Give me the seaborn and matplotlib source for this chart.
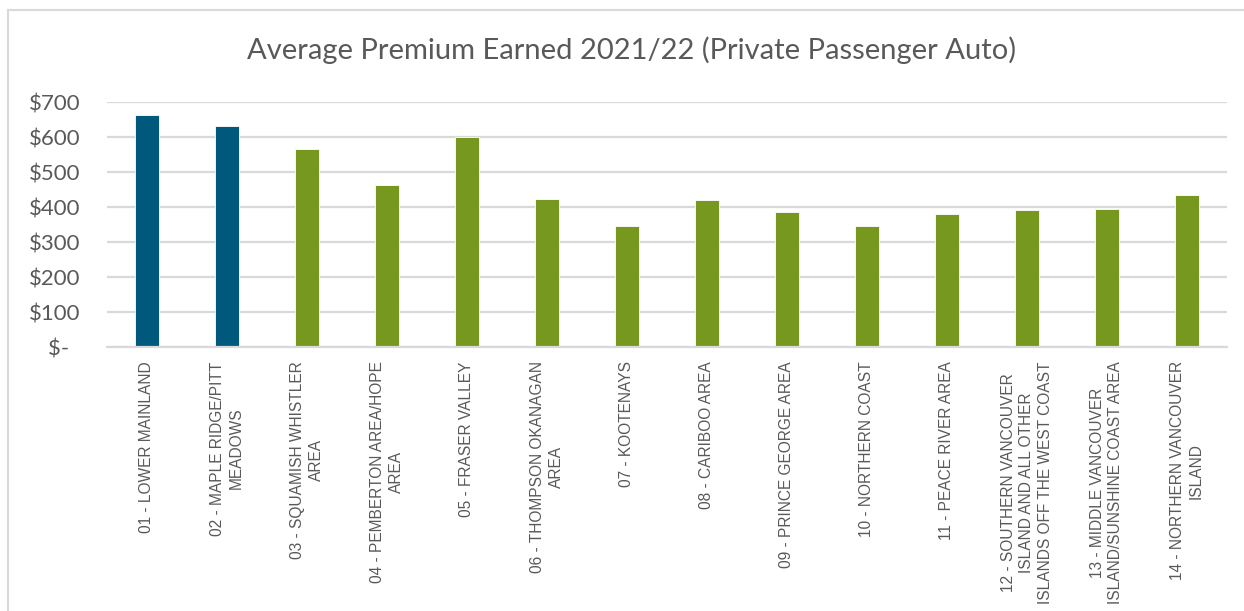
import matplotlib
matplotlib.use("Agg")
import matplotlib.pyplot as plt
from matplotlib.lines import Line2D
import seaborn as sns
import pandas as pd

regions = [
    "01 - LOWER MAINLAND",
    "02 - MAPLE RIDGE/PITT\nMEADOWS",
    "03 - SQUAMISH WHISTLER\nAREA",
    "04 - PEMBERTON AREA/HOPE\nAREA",
    "05 - FRASER VALLEY",
    "06 - THOMPSON OKANAGAN\nAREA",
    "07 - KOOTENAYS",
    "08 - CARIBOO AREA",
    "09 - PRINCE GEORGE AREA",
    "10 - NORTHERN COAST",
    "11 - PEACE RIVER AREA",
    "12 - SOUTHERN VANCOUVER\nISLAND AND ALL OTHER\nISLANDS OFF THE WEST COAST",
    "13 - MIDDLE VANCOUVER\nISLAND/SUNSHINE COAST AREA",
    "14 - NORTHERN VANCOUVER\nISLAND",
]
premium = [663, 633, 567, 465, 600, 425, 347, 421, 387, 347, 380, 391, 395, 434]
group = ["Urban", "Urban"] + ["Other"] * 12
yticks = [0, 100, 200, 300, 400, 500, 600, 700]
ytick_labels = ["$-  ", "$100", "$200", "$300", "$400", "$500", "$600", "$700"]
title = "Average Premium Earned 2021/22 (Private Passenger Auto)"

group_colors = {"Urban": "#00587c", "Other": "#76981e"}
text_gray = "#595959"
grid_gray = "#d9d9d9"

sns.set_theme(style="white")
plt.rcParams["font.family"] = ["Liberation Sans", "DejaVu Sans"]

df = pd.DataFrame({"region": regions, "premium": premium, "group": group})

fig = plt.figure(figsize=(12.44, 6.11), dpi=100)
ax = fig.add_axes([0.086, 0.4316, 0.9, 0.401])

sns.barplot(data=df, x="region", y="premium", hue="group", palette=group_colors,
            dodge=False, width=0.3, legend=False, ax=ax, saturation=1,
            edgecolor="white", linewidth=0.6)

ax.set_xlim(-0.5, len(regions) - 0.5)
ax.set_ylim(0, 700)
ax.set_yticks(yticks)
ax.set_yticklabels(ytick_labels, fontsize=16, color=text_gray, family="Lato")
ax.yaxis.grid(True, color=grid_gray, linewidth=1.6)
ax.set_axisbelow(True)
for s in ["top", "right", "left"]:
    ax.spines[s].set_visible(False)
ax.spines["bottom"].set_color(grid_gray)
ax.spines["bottom"].set_linewidth(1.6)
ax.tick_params(axis="y", length=0, pad=19)
ax.tick_params(axis="x", length=0, pad=10)
ax.set_xticks(range(len(regions)))
ax.set_xticklabels(regions, rotation=90, fontsize=11.2, color=text_gray,
                   multialignment="center", ha="center", va="top", linespacing=1.3)
ax.set_xlabel("")
ax.set_ylabel("")

fig.text(631.5 / 1244, 1 - 50 / 611, title, ha="center", va="center",
         fontsize=21, color=text_gray, family="Lato")

# chart frame (top and left edges)
fig.add_artist(Line2D([8 / 1244, 1], [1 - 10 / 611, 1 - 10 / 611],
                      transform=fig.transFigure, color=grid_gray, linewidth=1.5))
fig.add_artist(Line2D([8 / 1244, 8 / 1244], [0, 1 - 10 / 611],
                      transform=fig.transFigure, color=grid_gray, linewidth=1.5))

fig.savefig("out.png", dpi=100, facecolor="white")
